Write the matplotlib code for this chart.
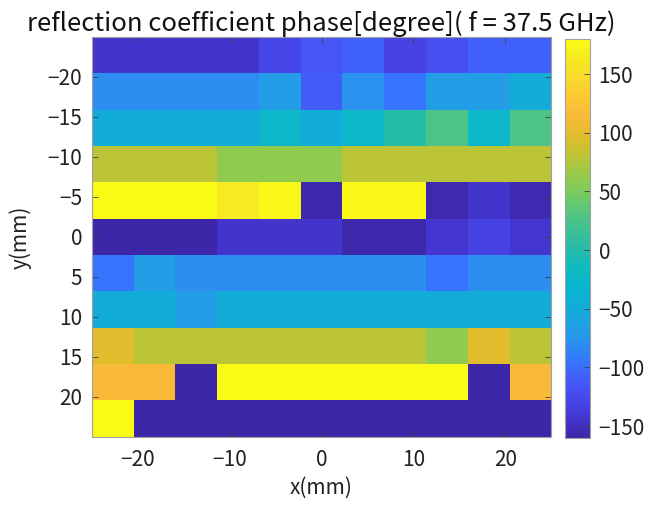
import numpy as np
import matplotlib
matplotlib.use("Agg")
from matplotlib import pyplot as plt
from matplotlib.colors import LinearSegmentedColormap

plt.rcParams['font.family'] = ['Noto Sans CJK JP', 'DejaVu Sans']

# grid extent (mm), 11 x 11 unit cells
x_lim = [-25, 25]
y_lim = [-25, 25]
n_cells = 11

# reflection phase in degree, one list per row from y=-25 (top) to y=25
phase = [
    [-145, -145, -145, -145, -128, -115, -108, -132, -120, -108, -108],
    [-80, -80, -80, -80, -68, -112, -78, -95, -68, -68, -48],
    [-48, -48, -48, -48, -25, -48, -25, 2, 27, -25, 27],
    [80, 80, 80, 60, 60, 60, 80, 80, 80, 80, 80],
    [178, 178, 178, 163, 175, -158, 177, 177, -157, -145, -156],
    [-160, -160, -160, -145, -145, -145, -158, -158, -143, -132, -143],
    [-95, -68, -80, -80, -80, -80, -80, -80, -95, -80, -80],
    [-48, -48, -68, -48, -48, -48, -48, -48, -48, -48, -48],
    [98, 80, 80, 80, 80, 80, 80, 80, 60, 98, 80],
    [115, 115, -160, 178, 178, 178, 178, 178, 178, -160, 115],
    [178, -160, -160, -160, -160, -160, -160, -160, -160, -160, -160],
]
c_lim = [-160, 180]

x_ticks = [-20, -10, 0, 10, 20]
y_ticks = [-20, -15, -10, -5, 0, 5, 10, 15, 20]
c_ticks = [-150, -100, -50, 0, 50, 100, 150]

# parula-like colormap
parula_pts = [
    (0.000, (0.2422, 0.1504, 0.6603)),
    (0.063, (0.2719, 0.2276, 0.8575)),
    (0.125, (0.2810, 0.3228, 0.9579)),
    (0.188, (0.2160, 0.4560, 0.9960)),
    (0.250, (0.1540, 0.5902, 0.9218)),
    (0.313, (0.0900, 0.6650, 0.8650)),
    (0.375, (0.0297, 0.7082, 0.8163)),
    (0.438, (0.0800, 0.7350, 0.7300)),
    (0.500, (0.2000, 0.7400, 0.6200)),
    (0.563, (0.3300, 0.7750, 0.5000)),
    (0.625, (0.5044, 0.7993, 0.3480)),
    (0.688, (0.6800, 0.7800, 0.2400)),
    (0.750, (0.8634, 0.7406, 0.1596)),
    (0.813, (0.9800, 0.7300, 0.2300)),
    (0.875, (0.9892, 0.8136, 0.1885)),
    (0.938, (0.9600, 0.9000, 0.1400)),
    (1.000, (0.9769, 0.9839, 0.0805)),
]
parula = LinearSegmentedColormap.from_list('parula', parula_pts, N=256)

x_edges = np.linspace(x_lim[0], x_lim[1], n_cells + 1)
y_edges = np.linspace(y_lim[0], y_lim[1], n_cells + 1)

fig = plt.figure(figsize=(6.61, 5.05), dpi=100)
ax = fig.add_axes([0.139, 0.135, 0.695, 0.792])
cax = fig.add_axes([0.855, 0.133, 0.038, 0.79])

mesh = ax.pcolormesh(x_edges, y_edges, np.array(phase), cmap=parula,
                     vmin=c_lim[0], vmax=c_lim[1])
ax.set_xlim(x_lim)
ax.set_ylim(y_lim[1], y_lim[0])
ax.set_xticks(x_ticks)
ax.set_yticks(y_ticks)
ax.tick_params(direction='in', length=4, width=0.6, color='#404040',
               labelsize=15, pad=7, top=True, right=True, labelcolor='#222222')
ax.tick_params(axis='x', pad=9)
for s in ax.spines.values():
    s.set_color('#a0a0a0')
    s.set_linewidth(0.8)

ax.set_xlabel('x(mm)', fontsize=15, color='#222222', labelpad=4)
ax.set_ylabel('y(mm)', fontsize=15, color='#222222', labelpad=11)
ax.set_title('reflection coefficient phase[degree]( f = 37.5 GHz)',
             fontsize=18.5, color='#111111', pad=4)

cb = fig.colorbar(mesh, cax=cax, ticks=c_ticks)
cb.ax.tick_params(direction='in', length=4, width=0.6, color='#404040',
                  labelsize=15, pad=6, labelcolor='#222222')
cb.outline.set_edgecolor('#a0a0a0')
cb.outline.set_linewidth(0.8)

fig.savefig('out.png', dpi=100)
